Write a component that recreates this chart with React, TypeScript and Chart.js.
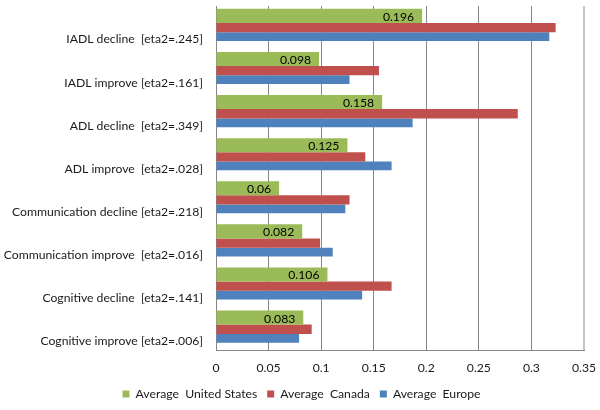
import React, { useEffect, useRef } from "react";
import { Chart, registerables } from "chart.js";

Chart.register(...registerables);

const categories = [
  "IADL decline  [eta2=.245]",
  "IADL improve [eta2=.161]",
  "ADL decline  [eta2=.349]",
  "ADL improve  [eta2=.028]",
  "Communication decline [eta2=.218]",
  "Communication improve  [eta2=.016]",
  "Cognitive decline  [eta2=.141]",
  "Cognitive improve [eta2=.006]",
];

const seriesNames = ["Average  United States", "Average  Canada", "Average  Europe"];

const usValues = [0.196, 0.098, 0.158, 0.125, 0.06, 0.082, 0.106, 0.083];
const canadaValues = [0.323, 0.155, 0.287, 0.142, 0.127, 0.099, 0.167, 0.091];
const europeValues = [0.317, 0.127, 0.187, 0.167, 0.123, 0.111, 0.139, 0.079];

const xTickLabels = ["0", "0.05", "0.1", "0.15", "0.2", "0.25", "0.3", "0.35"];

const FONT = "Lato, 'Open Sans', sans-serif";
const FS = 12.2;
const TEXT = "#1a1a1a";

export default function App() {
  const ref = useRef<HTMLCanvasElement | null>(null);

  useEffect(() => {
    document.body.style.margin = "0";
    const canvas = ref.current;
    if (!canvas) return;

    const valueLabels = {
      id: "valueLabels",
      afterDatasetsDraw(chart: any) {
        const ctx = chart.ctx;
        const meta = chart.getDatasetMeta(0);
        ctx.save();
        ctx.font = `${FS}px ${FONT}`;
        ctx.fillStyle = "#000";
        ctx.textAlign = "right";
        ctx.textBaseline = "middle";
        meta.data.forEach((el: any, i: number) => {
          ctx.fillText(String(usValues[i]), el.x - 8, el.y + 1);
        });
        ctx.restore();
      },
    };

    const chart = new Chart(canvas, {
      type: "bar",
      data: {
        labels: categories,
        datasets: [
          {
            label: seriesNames[0],
            data: usValues,
            backgroundColor: "#9BBB59",
            categoryPercentage: 0.8128,
            barPercentage: 1.2017,
          },
          {
            label: seriesNames[1],
            data: canadaValues,
            backgroundColor: "#C0504D",
            categoryPercentage: 0.75,
            barPercentage: 0.865,
          },
          {
            label: seriesNames[2],
            data: europeValues,
            backgroundColor: "#4F81BD",
            categoryPercentage: 0.6279,
            barPercentage: 0.9667,
          },
        ],
      },
      options: {
        indexAxis: "y",
        responsive: false,
        animation: false,
        layout: { padding: { top: 6, right: 0, left: 3, bottom: 0 } },
        plugins: {
          legend: {
            position: "bottom",
            labels: {
              boxWidth: 7,
              boxHeight: 7,
              padding: 10,
              color: TEXT,
              font: { family: FONT, size: FS },
            },
          },
          tooltip: { enabled: false },
        },
        scales: {
          x: {
            min: 0,
            max: 0.35,
            ticks: {
              stepSize: 0.05,
              padding: 10,
              color: TEXT,
              font: { family: FONT, size: FS },
              maxRotation: 0,
              callback: (_v: any, i: number) => xTickLabels[i],
            },
            grid: {
              drawTicks: false,
              color: (c: any) => (c.index === xTickLabels.length - 1 ? "#c4c4c4" : "#868686"),
              lineWidth: (c: any) => (c.index === xTickLabels.length - 1 ? 2 : 1),
            },
            border: { display: true, color: "#868686" },
            afterFit: (s: any) => {
              s.height = 27;
              s.paddingLeft = 0;
              s.paddingRight = 16;
            },
          },
          y: {
            ticks: {
              padding: 13,
              labelOffset: 12,
              color: TEXT,
              font: { family: FONT, size: FS },
              autoSkip: false,
            },
            grid: { display: false, drawTicks: false },
            border: { display: true, color: "#868686" },
            afterFit: (s: any) => {
              s.width = 213;
              s.paddingTop = 0;
              s.paddingBottom = 0;
            },
          },
        },
      },
      plugins: [valueLabels],
    });

    return () => chart.destroy();
  }, []);

  return (
    <div style={{ position: "absolute", left: 0, top: 0, width: 600, height: 410 }}>
      <canvas ref={ref} width={600} height={410} style={{ display: "block" }} />
    </div>
  );
}
